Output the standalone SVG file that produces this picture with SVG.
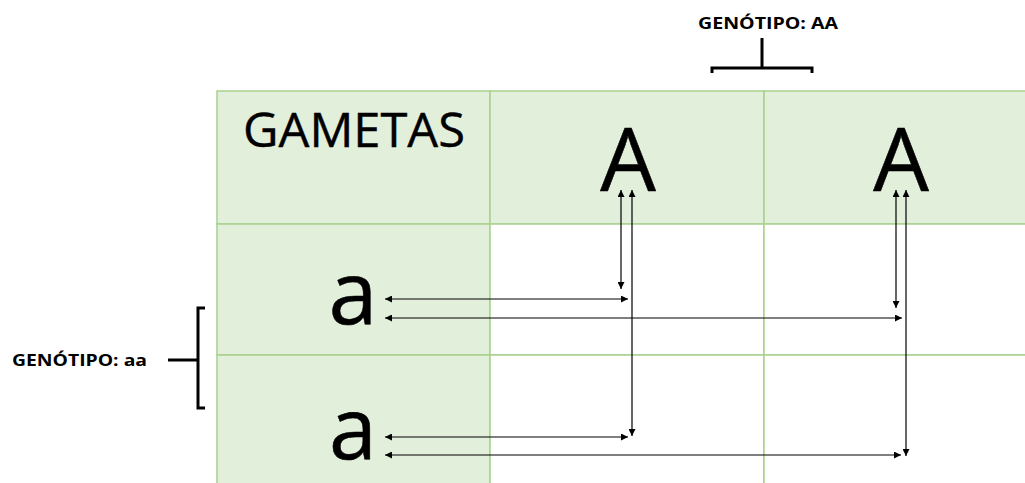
<svg xmlns="http://www.w3.org/2000/svg" width="1025" height="483" viewBox="0 0 1025 483">
<style>
.cell{stroke:#a9d18e;stroke-width:1.5}
.g{fill:#e2efda}
.w{fill:#ffffff}
.big{font-family:"Open Sans","Liberation Sans",sans-serif;fill:#000}
.lbl{font-family:"Open Sans","Liberation Sans",sans-serif;font-weight:bold;font-size:16px;fill:#000}
.br{fill:none;stroke:#000;stroke-width:3}
.ar{stroke:#000;stroke-width:1.2;fill:none}
</style>
<defs>
<marker id="ah" viewBox="0 0 10 10" refX="10" refY="5" markerWidth="7" markerHeight="7" markerUnits="userSpaceOnUse" orient="auto-start-reverse">
<path d="M0,0 L10,5 L0,10 z" fill="#000"/>
</marker>
</defs>
<rect width="1025" height="483" fill="#fff"/>
<g id="table">
<rect class="cell g" x="217" y="91" width="273" height="133"/>
<rect class="cell g" x="490" y="91" width="274" height="133"/>
<rect class="cell g" x="764" y="91" width="270" height="133"/>
<rect class="cell g" x="217" y="224" width="273" height="131"/>
<rect class="cell w" x="490" y="224" width="274" height="131"/>
<rect class="cell w" x="764" y="224" width="270" height="131"/>
<rect class="cell g" x="217" y="355" width="273" height="140"/>
<rect class="cell w" x="490" y="355" width="274" height="140"/>
<rect class="cell w" x="764" y="355" width="270" height="140"/>
</g>
<g id="gametas"><text class="big" x="243" y="147" font-size="47" textLength="222" lengthAdjust="spacingAndGlyphs" stroke="#000" stroke-width="0.4">GAMETAS</text></g>
<g id="A1"><text class="big" x="628" y="191" font-size="88" text-anchor="middle" stroke="#000" stroke-width="0.6">A</text></g>
<g id="A2"><text class="big" x="901" y="191" font-size="88" text-anchor="middle" stroke="#000" stroke-width="0.6">A</text></g>
<g id="a1"><text class="big" x="353" y="324" font-size="88" text-anchor="middle" stroke="#000" stroke-width="0.6">a</text></g>
<g id="a2"><text class="big" x="353" y="459" font-size="86" text-anchor="middle" stroke="#000" stroke-width="0.6">a</text></g>
<g id="genotipoAA">
<text class="lbl" x="698" y="29" textLength="140" lengthAdjust="spacingAndGlyphs">GENÓTIPO: AA</text>
<path class="br" d="M762,38 V68 M712,73 V68 H812 V73"/>
</g>
<g id="genotipoaa">
<text class="lbl" x="12" y="366" textLength="135" lengthAdjust="spacingAndGlyphs">GENÓTIPO: aa</text>
<path class="br" d="M168,360 H198 M205,308 H198 V408 H205"/>
</g>
<g id="connectors">
<line class="ar" x1="621" y1="190" x2="621" y2="289" marker-start="url(#ah)" marker-end="url(#ah)"/>
<line class="ar" x1="632" y1="190" x2="632" y2="436" marker-start="url(#ah)" marker-end="url(#ah)"/>
<line class="ar" x1="385" y1="299" x2="628" y2="299" marker-start="url(#ah)" marker-end="url(#ah)"/>
<line class="ar" x1="385" y1="437" x2="628" y2="437" marker-start="url(#ah)" marker-end="url(#ah)"/>
<line class="ar" x1="896" y1="190" x2="896" y2="308" marker-start="url(#ah)" marker-end="url(#ah)"/>
<line class="ar" x1="906" y1="190" x2="906" y2="456" marker-start="url(#ah)" marker-end="url(#ah)"/>
<line class="ar" x1="385" y1="318" x2="902" y2="318" marker-start="url(#ah)" marker-end="url(#ah)"/>
<line class="ar" x1="385" y1="455" x2="901" y2="455" marker-start="url(#ah)" marker-end="url(#ah)"/>
</g>
</svg>
